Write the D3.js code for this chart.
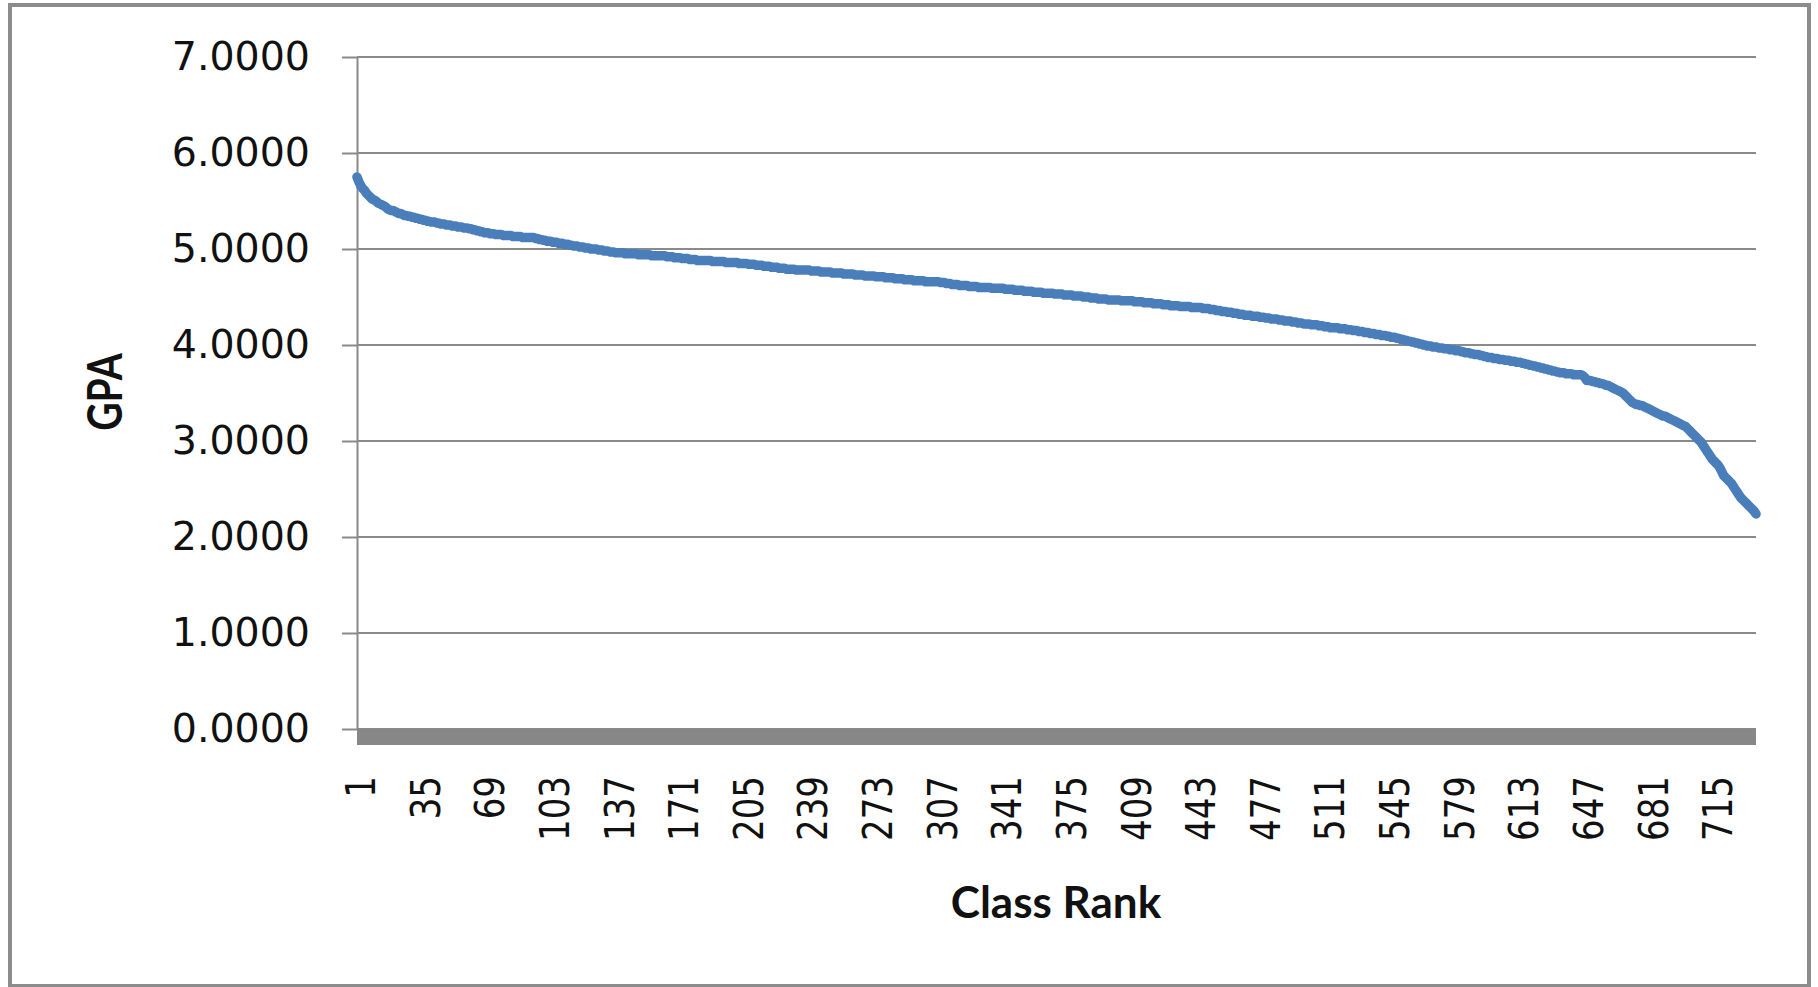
<!DOCTYPE html>
<html>
<head>
<meta charset="utf-8">
<script src="https://cdn.jsdelivr.net/npm/d3@7"></script>
<style>
  body { margin: 0; background: #fff; }
  .tick text { font-family: "DejaVu Sans", Verdana, sans-serif; fill: #111; }
  .title { font-family: Lato, "Open Sans", sans-serif; font-weight: bold; fill: #111; }
</style>
</head>
<body>
<div id="chart"></div>
<script>
// GPA of each student, sorted by class rank
const gpa = [
  5.75, 5.70, 5.66, 5.63, 5.61, 5.58, 5.56, 5.54, 5.52, 5.51,
  5.50, 5.48, 5.47, 5.46, 5.45, 5.44, 5.42, 5.41, 5.40, 5.40,
  5.39, 5.38, 5.37, 5.37, 5.36, 5.35, 5.35, 5.34, 5.34, 5.33,
  5.33, 5.32, 5.32, 5.31, 5.31, 5.30, 5.30, 5.29, 5.29, 5.28,
  5.28, 5.28, 5.27, 5.27, 5.26, 5.26, 5.26, 5.25, 5.25, 5.25,
  5.24, 5.24, 5.24, 5.23, 5.23, 5.23, 5.22, 5.22, 5.22, 5.21,
  5.21, 5.20, 5.20, 5.19, 5.19, 5.18, 5.18, 5.17, 5.17, 5.17,
  5.16, 5.16, 5.16, 5.15, 5.15, 5.15, 5.15, 5.14, 5.14, 5.14,
  5.14, 5.14, 5.13, 5.13, 5.13, 5.13, 5.13, 5.12, 5.12, 5.12,
  5.12, 5.12, 5.12, 5.12, 5.11, 5.11, 5.10, 5.10, 5.09, 5.09,
  5.08, 5.08, 5.08, 5.07, 5.07, 5.07, 5.06, 5.06, 5.06, 5.05,
  5.05, 5.05, 5.04, 5.04, 5.03, 5.03, 5.03, 5.02, 5.02, 5.02,
  5.01, 5.01, 5.01, 5.00, 5.00, 5.00, 5.00, 4.99, 4.99, 4.99,
  4.98, 4.98, 4.98, 4.97, 4.97, 4.97, 4.96, 4.96, 4.96, 4.96,
  4.96, 4.95, 4.95, 4.95, 4.95, 4.95, 4.95, 4.95, 4.94, 4.94,
  4.94, 4.94, 4.94, 4.94, 4.94, 4.93, 4.93, 4.93, 4.93, 4.93,
  4.93, 4.93, 4.93, 4.92, 4.92, 4.92, 4.92, 4.91, 4.91, 4.91,
  4.91, 4.90, 4.90, 4.90, 4.90, 4.89, 4.89, 4.89, 4.89, 4.88,
  4.88, 4.88, 4.88, 4.88, 4.88, 4.88, 4.88, 4.87, 4.87, 4.87,
  4.87, 4.87, 4.87, 4.87, 4.86, 4.86, 4.86, 4.86, 4.86, 4.86,
  4.86, 4.85, 4.85, 4.85, 4.85, 4.85, 4.84, 4.84, 4.84, 4.84,
  4.83, 4.83, 4.83, 4.83, 4.82, 4.82, 4.82, 4.82, 4.81, 4.81,
  4.81, 4.81, 4.80, 4.80, 4.80, 4.80, 4.79, 4.79, 4.79, 4.79,
  4.79, 4.78, 4.78, 4.78, 4.78, 4.78, 4.78, 4.78, 4.78, 4.77,
  4.77, 4.77, 4.77, 4.77, 4.76, 4.76, 4.76, 4.76, 4.76, 4.76,
  4.75, 4.75, 4.75, 4.75, 4.75, 4.75, 4.74, 4.74, 4.74, 4.74,
  4.74, 4.74, 4.73, 4.73, 4.73, 4.73, 4.73, 4.72, 4.72, 4.72,
  4.72, 4.72, 4.72, 4.71, 4.71, 4.71, 4.71, 4.71, 4.70, 4.70,
  4.70, 4.70, 4.70, 4.69, 4.69, 4.69, 4.69, 4.69, 4.68, 4.68,
  4.68, 4.68, 4.68, 4.67, 4.67, 4.67, 4.67, 4.67, 4.67, 4.66,
  4.66, 4.66, 4.66, 4.66, 4.66, 4.66, 4.66, 4.65, 4.65, 4.65,
  4.64, 4.64, 4.64, 4.63, 4.63, 4.63, 4.63, 4.62, 4.62, 4.62,
  4.62, 4.62, 4.61, 4.61, 4.61, 4.61, 4.61, 4.60, 4.60, 4.60,
  4.60, 4.60, 4.60, 4.60, 4.59, 4.59, 4.59, 4.59, 4.59, 4.59,
  4.59, 4.58, 4.58, 4.58, 4.58, 4.58, 4.57, 4.57, 4.57, 4.57,
  4.57, 4.56, 4.56, 4.56, 4.56, 4.56, 4.55, 4.55, 4.55, 4.55,
  4.55, 4.54, 4.54, 4.54, 4.54, 4.54, 4.54, 4.53, 4.53, 4.53,
  4.53, 4.53, 4.52, 4.52, 4.52, 4.52, 4.52, 4.51, 4.51, 4.51,
  4.51, 4.51, 4.50, 4.50, 4.50, 4.50, 4.49, 4.49, 4.49, 4.49,
  4.48, 4.48, 4.48, 4.48, 4.48, 4.47, 4.47, 4.47, 4.47, 4.47,
  4.47, 4.47, 4.46, 4.46, 4.46, 4.46, 4.46, 4.46, 4.46, 4.45,
  4.45, 4.45, 4.45, 4.45, 4.44, 4.44, 4.44, 4.44, 4.44, 4.43,
  4.43, 4.43, 4.43, 4.43, 4.42, 4.42, 4.42, 4.42, 4.41, 4.41,
  4.41, 4.41, 4.41, 4.40, 4.40, 4.40, 4.40, 4.40, 4.40, 4.39,
  4.39, 4.39, 4.39, 4.39, 4.39, 4.38, 4.38, 4.38, 4.38, 4.37,
  4.37, 4.37, 4.36, 4.36, 4.36, 4.35, 4.35, 4.35, 4.34, 4.34,
  4.34, 4.33, 4.33, 4.33, 4.32, 4.32, 4.32, 4.31, 4.31, 4.31,
  4.31, 4.30, 4.30, 4.30, 4.30, 4.29, 4.29, 4.29, 4.28, 4.28,
  4.28, 4.27, 4.27, 4.27, 4.27, 4.26, 4.26, 4.26, 4.25, 4.25,
  4.25, 4.25, 4.24, 4.24, 4.24, 4.23, 4.23, 4.23, 4.22, 4.22,
  4.22, 4.22, 4.21, 4.21, 4.21, 4.21, 4.20, 4.20, 4.20, 4.19,
  4.19, 4.19, 4.18, 4.18, 4.18, 4.18, 4.18, 4.17, 4.17, 4.17,
  4.17, 4.16, 4.16, 4.16, 4.15, 4.15, 4.15, 4.14, 4.14, 4.14,
  4.13, 4.13, 4.13, 4.12, 4.12, 4.12, 4.11, 4.11, 4.11, 4.10,
  4.10, 4.10, 4.09, 4.09, 4.08, 4.08, 4.08, 4.07, 4.07, 4.06,
  4.06, 4.05, 4.05, 4.04, 4.04, 4.03, 4.03, 4.02, 4.02, 4.01,
  4.01, 4.00, 4.00, 3.99, 3.99, 3.99, 3.98, 3.98, 3.98, 3.97,
  3.97, 3.97, 3.96, 3.96, 3.96, 3.95, 3.95, 3.95, 3.94, 3.94,
  3.94, 3.93, 3.93, 3.92, 3.92, 3.92, 3.91, 3.91, 3.90, 3.90,
  3.90, 3.89, 3.89, 3.88, 3.88, 3.87, 3.87, 3.87, 3.86, 3.86,
  3.86, 3.85, 3.85, 3.85, 3.84, 3.84, 3.84, 3.83, 3.83, 3.83,
  3.82, 3.82, 3.82, 3.81, 3.81, 3.80, 3.80, 3.79, 3.79, 3.78,
  3.78, 3.77, 3.77, 3.76, 3.76, 3.75, 3.75, 3.74, 3.74, 3.73,
  3.73, 3.72, 3.72, 3.71, 3.71, 3.71, 3.70, 3.70, 3.70, 3.70,
  3.69, 3.69, 3.69, 3.69, 3.69, 3.68, 3.66, 3.63, 3.63, 3.63,
  3.62, 3.62, 3.61, 3.61, 3.60, 3.60, 3.59, 3.58, 3.58, 3.57,
  3.56, 3.55, 3.54, 3.53, 3.52, 3.51, 3.50, 3.48, 3.46, 3.44,
  3.42, 3.40, 3.39, 3.38, 3.38, 3.37, 3.37, 3.36, 3.35, 3.34,
  3.33, 3.32, 3.31, 3.30, 3.29, 3.28, 3.27, 3.26, 3.26, 3.25,
  3.24, 3.23, 3.22, 3.21, 3.20, 3.19, 3.18, 3.17, 3.16, 3.15,
  3.13, 3.11, 3.09, 3.07, 3.05, 3.03, 3.01, 2.99, 2.96, 2.93,
  2.90, 2.87, 2.84, 2.81, 2.79, 2.77, 2.75, 2.72, 2.68, 2.64,
  2.62, 2.60, 2.58, 2.56, 2.53, 2.50, 2.47, 2.44, 2.41, 2.39,
  2.37, 2.35, 2.33, 2.31, 2.29, 2.27, 2.24
];
const ranks = gpa.map(function(d, i) { return i + 1; });

// tick labels
const xTickLabels = [1, 35, 69, 103, 137, 171, 205, 239, 273, 307, 341,
  375, 409, 443, 477, 511, 545, 579, 613, 647, 681, 715];
const yTickValues = [0, 1, 2, 3, 4, 5, 6, 7];

const W = 1818, H = 987;
const plot = {left: 357, right: 1756, top: 57, bottom: 729};

const svg = d3.select("#chart")
  .append("svg")
    .attr("width", W)
    .attr("height", H);

svg.append("rect")
    .attr("x", 10).attr("y", 5)
    .attr("width", 1799).attr("height", 981)
    .attr("fill", "#fff")
    .attr("stroke", "#8c8c8c")
    .attr("stroke-width", 4);

// scales
const xScale = d3.scalePoint()
  .domain(ranks)
  .range([plot.left, plot.right]);

const yScale = d3.scaleLinear()
  .domain([0, 7])
  .range([plot.bottom, plot.top]);

// horizontal grid lines
svg.append("g")
  .selectAll("line")
  .data(yTickValues)
  .enter()
  .append("line")
    .attr("x1", plot.left)
    .attr("x2", plot.right)
    .attr("y1", function(d) { return yScale(d); })
    .attr("y2", function(d) { return yScale(d); })
    .attr("stroke", "#8a8a8a")
    .attr("stroke-width", 2);

// Y axis
const yAxis = svg.append("g")
    .attr("transform", "translate(" + plot.left + ",0)")
  .call(d3.axisLeft(yScale)
    .tickValues(yTickValues)
    .tickSize(15)
    .tickSizeOuter(0)
    .tickPadding(32)
    .tickFormat(d3.format(".4f")));
yAxis.select(".domain").attr("stroke", "#8a8a8a").attr("stroke-width", 2);
yAxis.selectAll(".tick line").attr("stroke", "#8a8a8a").attr("stroke-width", 2);
yAxis.selectAll(".tick text").style("font-size", "39.5px").attr("dy", "0.32em");

// thick X axis band
svg.append("rect")
    .attr("x", xScale(1))
    .attr("y", yScale(0))
    .attr("width", xScale(ranks[ranks.length - 1]) - xScale(1))
    .attr("height", 16)
    .attr("fill", "#878787");

// X tick labels (rotated)
svg.append("g")
  .selectAll("text")
  .data(xTickLabels)
  .enter()
  .append("text")
    .attr("class", "tick")
    .attr("transform", function(d) {
      return "translate(" + (xScale(d) + 18) + ",776) rotate(-90) scale(1,1.2)";
    })
    .attr("text-anchor", "end")
    .style("font-family", "'DejaVu Sans', Verdana, sans-serif")
    .style("font-size", "34px")
    .attr("fill", "#111")
    .text(function(d) { return d; });

// GPA line
const line = d3.line()
  .x(function(d, i) { return xScale(ranks[i]); })
  .y(function(d) { return yScale(d); });

svg.append("path")
    .datum(gpa)
    .attr("d", line)
    .attr("fill", "none")
    .attr("stroke", "#4a7ebb")
    .attr("stroke-width", 9.5)
    .attr("stroke-linejoin", "round")
    .attr("stroke-linecap", "round");

// axis titles
svg.append("text")
    .attr("class", "title")
    .attr("transform", "translate(122,392) rotate(-90) scale(1,1.2)")
    .attr("text-anchor", "middle")
    .style("font-size", "39px")
    .text("GPA");

svg.append("text")
    .attr("class", "title")
    .attr("x", 1056)
    .attr("y", 918)
    .attr("text-anchor", "middle")
    .style("font-size", "44px")
    .text("Class Rank");
</script>
</body>
</html>
